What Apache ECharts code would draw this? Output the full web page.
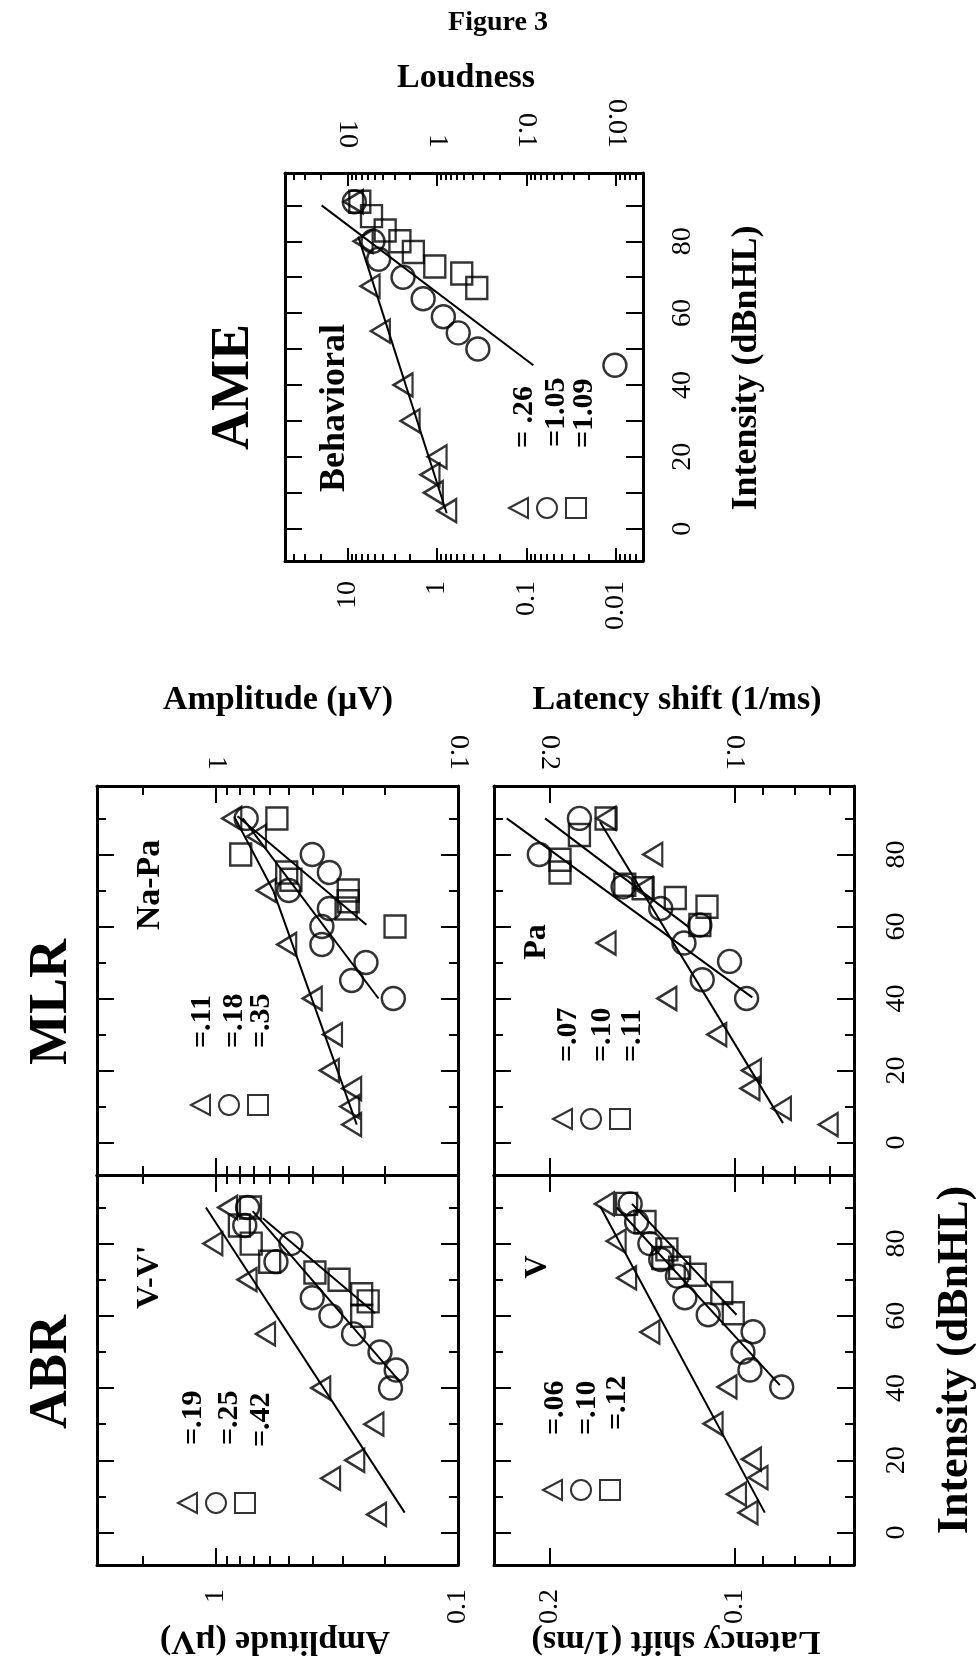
<!DOCTYPE html>
<html>
<head>
<meta charset="utf-8">
<title>Figure 3</title>
<script src="https://cdn.jsdelivr.net/npm/echarts@6/dist/echarts.min.js"></script>
<style>
  html, body { margin: 0; padding: 0; background: #fff; }
  #chart { width: 976px; height: 1671px; }
</style>
</head>
<body>
<div id="chart"></div>
<script>
// values, as [intensity dBnHL, response]
// AME - loudness (behavioral)
const ameTri = [[91, 8.6], [80, 6.7], [67.5, 5.6], [55, 4.3], [40, 2.4], [30, 2.0], [20, 1.0], [15, 1.2], [10, 1.1], [5, 0.78]];
const ameCirc = [[91, 8.4], [80, 5.2], [75, 4.5], [70, 2.4], [64, 1.43], [59, 0.85], [54.5, 0.58], [50, 0.35], [45.5, 0.0103]];
const ameSq = [[91, 7.3], [87, 5.4], [83, 3.8], [80, 2.6], [77, 1.84], [73, 1.06], [71, 0.53], [67, 0.36]];
const ameTriFit = [[81.3, 7.6], [4.3, 0.78]];
const ameCircFit = [[90, 19.5], [45.5, 0.084]];

// MLR Na-Pa amplitude (uV)
const naPaTri = [[90, 0.86], [85, 0.68], [70, 0.62], [55, 0.51], [40, 0.40], [30, 0.33], [20, 0.34], [15, 0.275], [10, 0.28], [5, 0.275]];
const naPaCirc = [[90, 0.75], [80, 0.40], [75, 0.34], [70, 0.50], [65, 0.34], [60, 0.365], [55, 0.365], [50, 0.24], [45, 0.275], [40, 0.185]];
const naPaSq = [[90, 0.56], [80, 0.79], [75, 0.51], [73, 0.49], [70, 0.284], [67, 0.284], [65, 0.29], [60, 0.182]];
const naPaTriFit = [[90.5, 0.84], [70, 0.58], [39.6, 0.40], [5, 0.262]];
const naPaCircFit = [[90, 0.775], [40, 0.213]];
const naPaSqFit = [[90.6, 0.814], [60.5, 0.239]];

// ABR V-V' amplitude (uV)
const vvTri = [[90, 0.895], [80, 1.03], [70, 0.744], [55, 0.624], [40, 0.369], [30, 0.2225], [20, 0.267], [15, 0.336], [5, 0.217]];
const vvCirc = [[90, 0.74], [85, 0.76], [80, 0.49], [75, 0.565], [65, 0.40], [60, 0.335], [55, 0.27], [50, 0.21], [45, 0.18], [40, 0.19]];
const vvSq = [[90, 0.72], [85, 0.80], [80, 0.715], [75, 0.60], [72, 0.39], [70, 0.31], [66, 0.25], [64, 0.235], [60, 0.25]];
const vvTriFit = [[90, 1.10], [5.5, 0.166]];
const vvCircFit = [[89, 0.705], [41.7, 0.1735]];
const vvSqFit = [[87, 0.64], [60.7, 0.22]];

// MLR Pa latency shift (1/ms)
const paTri = [[90, 0.162], [80, 0.136], [70.6, 0.141], [55.4, 0.162], [40, 0.129], [30, 0.107], [20, 0.094], [15, 0.0945], [9.5, 0.084], [5, 0.0705]];
const paCirc = [[90, 0.179], [80, 0.208], [71, 0.152], [65, 0.132], [60.4, 0.114], [55.4, 0.121], [50.3, 0.102], [45.2, 0.113], [40, 0.0957]];
const paSq = [[90, 0.162], [85.4, 0.179], [78.5, 0.1925], [75, 0.1925], [71.6, 0.151], [70.6, 0.141], [67.9, 0.125], [65.5, 0.111], [60.4, 0.114]];
const paTriFit = [[89, 0.1657], [5.4, 0.0835]];
const paCircFit = [[90, 0.235], [40.3, 0.0937]];
const paSqFit = [[90, 0.2036], [59.6, 0.1184]];

// ABR V latency shift (1/ms)
const vTri = [[91, 0.163], [80.7, 0.156], [70.5, 0.150], [55.5, 0.1375], [40.3, 0.103], [30.1, 0.1085], [20.3, 0.094], [15.2, 0.0917], [10.6, 0.0994], [5.5, 0.0952]];
const vCirc = [[91, 0.148], [86, 0.1445], [80, 0.1375], [75.6, 0.132], [71, 0.124], [65, 0.1206], [60.3, 0.1105], [55.6, 0.0934], [50, 0.097], [45, 0.0945], [40.3, 0.0839]];
const vSq = [[91, 0.150], [86, 0.140], [78.4, 0.129], [76, 0.131], [73.3, 0.123], [71.4, 0.116], [66.3, 0.105], [60.7, 0.1006]];
const vTriFit = [[90.4, 0.1657], [5.5, 0.0894]];
const vCircFit = [[90, 0.1557], [40.8, 0.0845]];
const vSqFit = [[91, 0.147], [60.3, 0.0994]];

// tick values
const loudLabels = [10, 1, 0.1, 0.01];
const loudMinor = [40, 30, 20, 9, 8, 7, 6, 5, 4, 3, 2, 0.9, 0.8, 0.7, 0.6, 0.5, 0.4, 0.3, 0.2,
  0.09, 0.08, 0.07, 0.06, 0.05, 0.04, 0.03, 0.02, 0.009, 0.008, 0.007, 0.006];
const ampLabels = [1, 0.1];
const ampMajor = [1];
const ampMinor = [2, 0.9, 0.8, 0.7, 0.6, 0.5, 0.4, 0.3, 0.2];
const latLabels = [0.2, 0.1];
const latMajor = [0.2, 0.1];
const latMinor = [0.09, 0.08, 0.07];
const intLabels = [0, 20, 40, 60, 80];
const intMinor = [10, 30, 50, 70, 90];
const ameIntTicks = [0, 10, 20, 30, 40, 50, 60, 70, 80, 90];

const FONT = '"Liberation Serif", "Times New Roman", serif';
const INK = '#000';
const HOLLOW = { color: 'rgba(0,0,0,0)', borderColor: INK, borderWidth: 2.4 };
const TRI = 'path://M0,10L19,0L19,20Z';

const panels = [
  { key: 'AME', box: [285, 173, 358, 388], xMin: 0.005, xMax: 50,
    xMajor: loudLabels, xMinor: loudMinor, majorLen: 13, minorLen: 7,
    top: loudLabels, topMargin: 25, bottom: loudLabels, bottomMargin: 20,
    yMajor: ameIntTicks, yMinor: [], right: intLabels, rightMargin: 26,
    tri: ameTri, circ: ameCirc, sq: ameSq, fits: [ameTriFit, ameCircFit], legend: [508, 497] },
  { key: 'Na-Pa', box: [97, 786, 361, 389], xMin: 0.09999, xMax: 3.1,
    xMajor: ampMajor, xMinor: ampMinor, majorLen: 17, minorLen: 9,
    top: ampLabels, topMargin: 16, bottom: null,
    yMajor: intLabels, yMinor: intMinor, right: null,
    tri: naPaTri, circ: naPaCirc, sq: naPaSq, fits: [naPaTriFit, naPaCircFit, naPaSqFit], legend: [190, 1094] },
  { key: "V-V'", box: [97, 1175, 361, 390], xMin: 0.09999, xMax: 3.1,
    xMajor: ampMajor, xMinor: ampMinor, majorLen: 17, minorLen: 9,
    top: null, bottom: ampLabels, bottomMargin: 24,
    yMajor: intLabels, yMinor: intMinor, right: null,
    tri: vvTri, circ: vvCirc, sq: vvSq, fits: [vvTriFit, vvCircFit, vvSqFit], legend: [177, 1492] },
  { key: 'Pa', box: [494, 786, 360, 389], xMin: 0.064, xMax: 0.2465,
    xMajor: latMajor, xMinor: latMinor, majorLen: 17, minorLen: 9,
    top: latLabels, topMargin: 16, bottom: null,
    yMajor: intLabels, yMinor: intMinor, right: intLabels, rightMargin: 29,
    tri: paTri, circ: paCirc, sq: paSq, fits: [paTriFit, paCircFit, paSqFit], legend: [552, 1108] },
  { key: 'V', box: [494, 1175, 360, 390], xMin: 0.064, xMax: 0.2465,
    xMajor: latMajor, xMinor: latMinor, majorLen: 17, minorLen: 9,
    top: null, bottom: latLabels, bottomMargin: 24,
    yMajor: intLabels, yMinor: intMinor, right: intLabels, rightMargin: 29,
    tri: vTri, circ: vCirc, sq: vSq, fits: [vTriFit, vCircFit, vSqFit], legend: [542, 1479] }
];

const grids = [], xAxes = [], yAxes = [], series = [], legends = [];

function labelStyle(values, margin) {
  if (!values) return { show: false };
  return {
    show: true, customValues: values, rotate: 90, margin: margin,
    color: INK, fontFamily: FONT, fontSize: 28,
    formatter: function (v) { return String(+Number(v).toPrecision(3)); }
  };
}

function xAxis(gi, p, position, ticks, len, labels, margin, line) {
  return {
    gridIndex: gi, type: 'log', logBase: 10, inverse: true, position: position,
    min: p.xMin, max: p.xMax,
    axisLine: { show: line, onZero: false, lineStyle: { color: INK, width: 3 } },
    axisTick: { show: ticks.length > 0, inside: true, length: len, customValues: ticks, lineStyle: { color: INK, width: 2 } },
    axisLabel: labelStyle(labels, margin),
    splitLine: { show: false }, minorTick: { show: false }
  };
}

function yAxis(gi, position, ticks, len, labels, margin, line) {
  return {
    gridIndex: gi, type: 'value', min: -9, max: 99, position: position,
    axisLine: { show: line, onZero: false, lineStyle: { color: INK, width: 3 } },
    axisTick: { show: ticks.length > 0, inside: true, length: len, customValues: ticks, lineStyle: { color: INK, width: 2 } },
    axisLabel: labelStyle(labels, margin),
    splitLine: { show: false }
  };
}

panels.forEach(function (p, gi) {
  grids.push({ left: p.box[0], top: p.box[1], width: p.box[2], height: p.box[3], outerBoundsMode: 'none', containLabel: false });
  const xb = xAxes.length, yb = yAxes.length;
  xAxes.push(xAxis(gi, p, 'bottom', p.xMajor, p.majorLen, p.bottom, p.bottomMargin, true));
  xAxes.push(xAxis(gi, p, 'bottom', p.xMinor, p.minorLen, null, 0, false));
  xAxes.push(xAxis(gi, p, 'top', p.xMajor, p.majorLen, p.top, p.topMargin, true));
  xAxes.push(xAxis(gi, p, 'top', p.xMinor, p.minorLen, null, 0, false));
  yAxes.push(yAxis(gi, 'left', p.yMajor, 17, null, 0, true));
  yAxes.push(yAxis(gi, 'left', p.yMinor, 9, null, 0, false));
  yAxes.push(yAxis(gi, 'right', p.yMajor, 17, p.right, p.rightMargin, true));
  yAxes.push(yAxis(gi, 'right', p.yMinor, 9, null, 0, false));

  const flip = function (arr) { return arr.map(function (d) { return [d[1], d[0]]; }); };
  p.fits.forEach(function (f) {
    series.push({ type: 'line', xAxisIndex: xb, yAxisIndex: yb, data: flip(f), symbol: 'none',
      lineStyle: { color: INK, width: 2 }, silent: true, z: 2 });
  });
  const names = [p.key + ' triangle', p.key + ' circle', p.key + ' square'];
  series.push({ type: 'scatter', name: names[0], xAxisIndex: xb, yAxisIndex: yb, data: flip(p.tri),
    symbol: TRI, symbolSize: [19, 23], itemStyle: HOLLOW, z: 3 });
  series.push({ type: 'scatter', name: names[1], xAxisIndex: xb, yAxisIndex: yb, data: flip(p.circ),
    symbol: 'circle', symbolSize: 23, itemStyle: HOLLOW, z: 3 });
  series.push({ type: 'scatter', name: names[2], xAxisIndex: xb, yAxisIndex: yb, data: flip(p.sq),
    symbol: 'rect', symbolSize: [21, 22], itemStyle: HOLLOW, z: 3 });
  legends.push({ left: p.legend[0], top: p.legend[1], padding: 0, orient: 'horizontal',
    itemWidth: 20, itemHeight: 20, itemGap: 7, data: names, selectedMode: false,
    formatter: function () { return ''; }, textStyle: { fontSize: 10 } });
});

const R = Math.PI / 2;
const texts = [
  { s: 'Figure 3', x: 498, y: 23, size: 28, rot: 0 },
  { s: 'Loudness', x: 466, y: 78, size: 34, rot: 0 },
  { s: 'Amplitude (\u00b5V)', x: 278, y: 700, size: 34, rot: 0 },
  { s: 'Latency shift (1/ms)', x: 677, y: 700, size: 34, rot: 0 },
  { s: 'Amplitude (\u00b5V)', x: 275, y: 1641, size: 34, rot: Math.PI },
  { s: 'Latency shift (1/ms)', x: 676, y: 1641, size: 34, rot: Math.PI },
  { s: 'AME', x: 234, y: 387, size: 54, rot: R },
  { s: 'MLR', x: 52, y: 1002, size: 54, rot: R },
  { s: 'ABR', x: 52, y: 1372, size: 54, rot: R },
  { s: 'Intensity (dBnHL)', x: 747, y: 368, size: 36, rot: R },
  { s: 'Intensity (dBnHL)', x: 956, y: 1360, size: 44, rot: R },
  { s: 'Behavioral', x: 335, y: 408, size: 36, rot: R },
  { s: 'Na-Pa', x: 150, y: 885, size: 34, rot: R },
  { s: "V-V'", x: 150, y: 1277, size: 32, rot: R },
  { s: 'Pa', x: 537, y: 942, size: 32, rot: R },
  { s: 'V', x: 538, y: 1267, size: 32, rot: R },
  { s: '= .26', x: 524, y: 448, size: 30, rot: R, align: 'left' },
  { s: '=1.05', x: 556, y: 447, size: 30, rot: R, align: 'left' },
  { s: '=1.09', x: 584, y: 448, size: 30, rot: R, align: 'left' },
  { s: '=.11', x: 202, y: 1048, size: 30, rot: R, align: 'left' },
  { s: '=.18', x: 234, y: 1048, size: 30, rot: R, align: 'left' },
  { s: '=.35', x: 261, y: 1048, size: 30, rot: R, align: 'left' },
  { s: '=.19', x: 193, y: 1445, size: 30, rot: R, align: 'left' },
  { s: '=.25', x: 229, y: 1445, size: 30, rot: R, align: 'left' },
  { s: '=.42', x: 261, y: 1447, size: 30, rot: R, align: 'left' },
  { s: '=.07', x: 568, y: 1062, size: 30, rot: R, align: 'left' },
  { s: '=.10', x: 602, y: 1062, size: 30, rot: R, align: 'left' },
  { s: '=.11', x: 632, y: 1062, size: 30, rot: R, align: 'left' },
  { s: '=.06', x: 555, y: 1435, size: 30, rot: R, align: 'left' },
  { s: '=.10', x: 587, y: 1435, size: 30, rot: R, align: 'left' },
  { s: '=.12', x: 617, y: 1430, size: 30, rot: R, align: 'left' }
];

const chart = echarts.init(document.getElementById('chart'), null, { renderer: 'canvas' });
chart.setOption({
  backgroundColor: '#fff',
  animation: false,
  grid: grids,
  xAxis: xAxes,
  yAxis: yAxes,
  legend: legends,
  series: series,
  graphic: texts.map(function (t) {
    return {
      type: 'text', x: t.x, y: t.y, rotation: t.rot, silent: true, z: 10,
      style: {
        text: t.s, fill: INK, fontFamily: FONT, fontSize: t.size, fontWeight: 'bold',
        align: t.align || 'center', verticalAlign: 'middle',
        textAlign: t.align || 'center', textVerticalAlign: 'middle'
      }
    };
  })
});
</script>
</body>
</html>
